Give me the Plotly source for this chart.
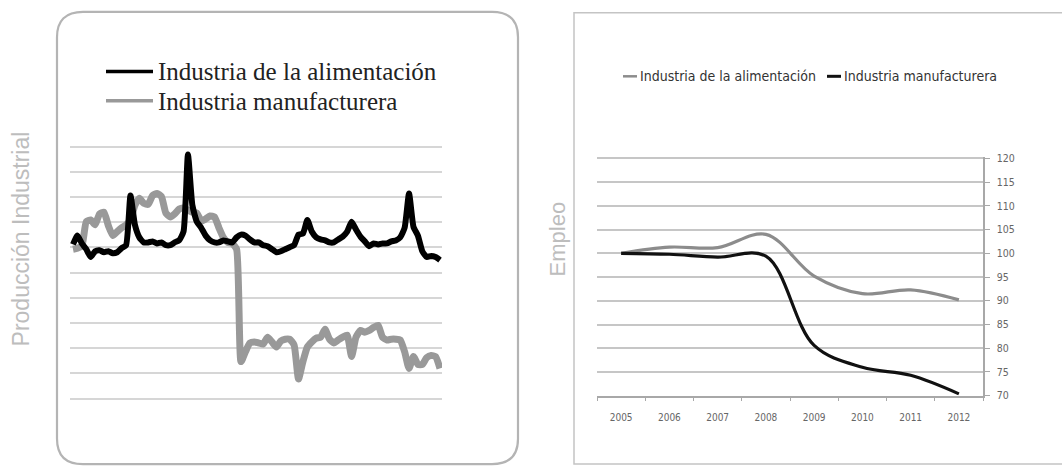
import plotly.graph_objects as go

W, H = 1062, 475

# ---- Left panel: monthly industrial production index ----
meses = list(range(84))
alimentacion_prod = [
    111.2, 114.7, 111.6, 109.3, 106.2, 108.5, 108.9, 108.1, 108.5, 107.7,
    108.1, 109.7, 110.9, 130.6, 119.0, 114.0, 112.0, 112.0, 112.4, 111.6,
    112.0, 110.9, 110.9, 112.0, 112.8, 116.3, 146.9, 126.7, 120.2, 117.8,
    114.7, 112.8, 112.0, 112.0, 112.8, 112.4, 112.0, 114.0, 115.1, 114.7,
    113.2, 112.0, 112.0, 110.9, 110.5, 109.3, 108.1, 108.5, 109.3, 110.1,
    110.9, 115.1, 115.5, 120.9, 116.3, 114.0, 113.2, 112.8, 112.0, 112.0,
    113.2, 114.3, 116.3, 120.2, 117.1, 114.3, 112.4, 110.5, 111.6, 111.2,
    111.6, 111.6, 112.4, 112.8, 114.0, 117.8, 131.4, 118.2, 114.7, 108.5,
    106.2, 106.6, 106.2, 105.0,
]
manufacturera_prod = [
    109.3, 109.7, 110.5, 120.2, 120.9, 119.0, 123.3, 124.0, 118.6, 114.7,
    116.3, 117.8, 119.0, 120.9, 126.7, 129.5, 127.5, 127.1, 130.6, 131.4,
    130.2, 123.6, 122.1, 123.3, 125.2, 125.6, 124.8, 124.0, 123.6, 120.5,
    121.3, 122.5, 122.1, 117.8, 114.0, 112.0, 111.6, 109.3, 64.7, 68.6,
    72.1, 72.5, 72.1, 71.7, 74.4, 72.5, 70.5, 72.9, 73.6, 73.6,
    71.3, 57.8, 64.7, 70.5, 72.5, 74.0, 74.4, 77.5, 73.6, 72.1,
    73.3, 74.4, 75.2, 66.7, 74.4, 77.1, 76.4, 77.1, 78.3, 79.1,
    74.4, 73.3, 73.6, 73.6, 73.3, 68.6, 62.0, 66.7, 63.6, 63.6,
    66.3, 67.1, 66.7, 62.0,
]
prod_grid = list(range(50, 151, 10))

# ---- Right panel: yearly employment index ----
anios = ["2005", "2006", "2007", "2008", "2009", "2010", "2011", "2012"]
alimentacion_empleo = [100.0, 101.3, 101.2, 104.0, 95.2, 91.5, 92.3, 90.2]
manufacturera_empleo = [100.0, 99.8, 99.2, 99.4, 80.6, 76.0, 74.3, 70.4]
empleo_ticks = list(range(70, 121, 5))

NEGRO = "#000000"
GRIS = "#999999"


def px(x):
    return x / W


def py(y):
    return 1 - y / H


fig = go.Figure()

fig.add_trace(go.Scatter(
    x=meses, y=manufacturera_prod, mode="lines", name="Industria manufacturera",
    line=dict(color=GRIS, width=7, shape="spline", smoothing=0.5),
    xaxis="x", yaxis="y", showlegend=False,
))
fig.add_trace(go.Scatter(
    x=meses, y=alimentacion_prod, mode="lines", name="Industria de la alimentación",
    line=dict(color=NEGRO, width=6, shape="spline", smoothing=0.5),
    xaxis="x", yaxis="y", showlegend=False,
))

fig.add_trace(go.Scatter(
    x=anios, y=alimentacion_empleo, mode="lines", name="Industria de la alimentación",
    line=dict(color="#8c8c8c", width=3.2, shape="spline", smoothing=1.0),
    xaxis="x2", yaxis="y2", showlegend=False,
))
fig.add_trace(go.Scatter(
    x=anios, y=manufacturera_empleo, mode="lines", name="Industria manufacturera",
    line=dict(color="#111111", width=3.2, shape="spline", smoothing=1.0),
    xaxis="x2", yaxis="y2", showlegend=False,
))

n = len(meses)
step = 367 / (n - 1)
pad_prod = 1.0        # value units of headroom so edge gridlines are drawn
pxv_prod = 2.58       # pixels per value unit, production chart
pad_emp = 0.3
pxv_emp = 4.86

fig.update_layout(
    width=W, height=H,
    margin=dict(l=0, r=0, t=0, b=0),
    paper_bgcolor="white", plot_bgcolor="rgba(0,0,0,0)",
    xaxis=dict(
        domain=[px(70), px(442)],
        range=[-3 / step, (n - 1) + 2 / step],
        visible=False, showgrid=False, zeroline=False,
    ),
    yaxis=dict(
        domain=[py(403 + pad_prod * pxv_prod), py(145 - pad_prod * pxv_prod)],
        range=[50 - pad_prod, 150 + pad_prod], tickvals=prod_grid,
        showticklabels=False, ticks="", showline=False, zeroline=False,
        gridcolor="#d6d6d6", gridwidth=2.2,
    ),
    xaxis2=dict(
        domain=[px(597), px(983)], anchor="y2",
        type="category", range=[-0.5, 7.5], tickson="boundaries",
        ticks="outside", ticklen=4, tickcolor="#a8a8a8", tickwidth=1,
        showline=True, linecolor="#a8a8a8", linewidth=1.5,
        showgrid=False, zeroline=False,
        tickfont=dict(family="DejaVu Sans Condensed", size=10, color="#666666"),
        ticklabelstandoff=12,
    ),
    yaxis2=dict(
        domain=[py(400), py(157 - pad_emp * pxv_emp)], anchor="x2", side="right",
        range=[70, 120 + pad_emp], tickvals=empleo_ticks,
        ticks="outside", ticklen=5, tickcolor="#a8a8a8",
        showline=True, linecolor="#a8a8a8", linewidth=1.5,
        gridcolor="#c6c6c6", gridwidth=2, zeroline=False,
        tickfont=dict(family="DejaVu Sans Condensed", size=10.5, color="#666666"),
        ticklabelstandoff=5,
    ),
)

shapes = []

# rounded frame around the production chart
x0, x1, y0, y1, r = 57, 518, 7, 470, 26
path = (
    f"M {px(x0 + r)},{py(y0)} L {px(x1 - r)},{py(y0)} "
    f"Q {px(x1)},{py(y0)} {px(x1)},{py(y0 + r)} "
    f"L {px(x1)},{py(y1 - r)} Q {px(x1)},{py(y1)} {px(x1 - r)},{py(y1)} "
    f"L {px(x0 + r)},{py(y1)} Q {px(x0)},{py(y1)} {px(x0)},{py(y1 - r)} "
    f"L {px(x0)},{py(y0 + r)} Q {px(x0)},{py(y0)} {px(x0 + r)},{py(y0)} Z"
)
shapes.append(dict(type="path", xref="paper", yref="paper", path=path,
                   line=dict(color="#b4b4b4", width=2.2), layer="below"))

# frame around the employment chart
shapes.append(dict(type="rect", xref="paper", yref="paper",
                   x0=px(574), x1=px(1070), y0=py(470), y1=py(8),
                   line=dict(color="#c4c4c4", width=1.5), layer="below"))

# legend swatches, production chart
shapes.append(dict(type="line", xref="paper", yref="paper",
                   x0=px(106), x1=px(153), y0=py(68), y1=py(68),
                   line=dict(color=NEGRO, width=3.5)))
shapes.append(dict(type="line", xref="paper", yref="paper",
                   x0=px(106), x1=px(153), y0=py(98), y1=py(98),
                   line=dict(color=GRIS, width=3.5)))

# legend swatches, employment chart
shapes.append(dict(type="line", xref="paper", yref="paper",
                   x0=px(623), x1=px(637), y0=py(73), y1=py(73),
                   line=dict(color="#8c8c8c", width=2.5)))
shapes.append(dict(type="line", xref="paper", yref="paper",
                   x0=px(827), x1=px(841), y0=py(73), y1=py(73),
                   line=dict(color="#111111", width=3)))

fig.update_layout(shapes=shapes)

serif = dict(family="Liberation Serif", size=25, color="#222222")
cond = dict(family="DejaVu Sans Condensed", size=14, color="#333333")
titulo = dict(family="Liberation Sans", size=23, color="#bdbdbd")

annotations = [
    dict(text="Industria de la alimentación", x=px(156), y=py(68), font=serif),
    dict(text="Industria manufacturera", x=px(156), y=py(99), font=serif),
    dict(text="Industria de la alimentación", x=px(638), y=py(73), font=cond),
    dict(text="Industria manufacturera", x=px(842), y=py(73), font=cond),
]
for a in annotations:
    a.update(xref="paper", yref="paper", xanchor="left", yanchor="middle",
             showarrow=False)

annotations.append(dict(text="Producción Industrial", x=px(21), y=py(240),
                        xref="paper", yref="paper", textangle=-90,
                        xanchor="center", yanchor="middle", showarrow=False,
                        font=titulo))
annotations.append(dict(text="Empleo", x=px(557), y=py(240),
                        xref="paper", yref="paper", textangle=-90,
                        xanchor="center", yanchor="middle", showarrow=False,
                        font=dict(family="Liberation Sans", size=22, color="#bdbdbd")))

fig.update_layout(annotations=annotations)

fig.write_html("out.html")
